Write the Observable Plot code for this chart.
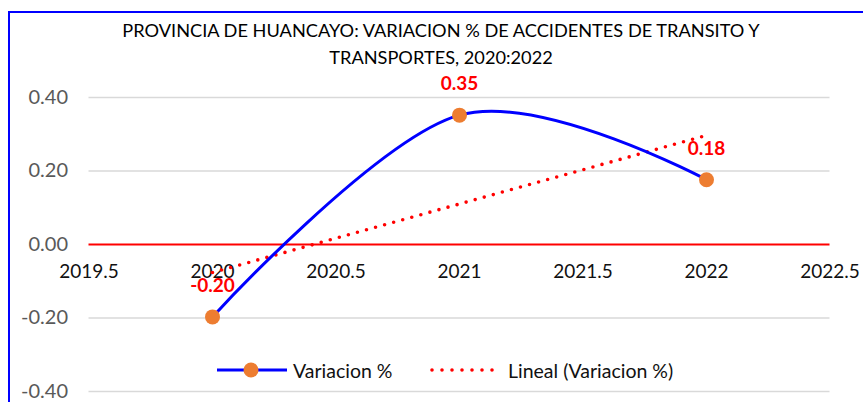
<!DOCTYPE html>
<html>
<head>
<meta charset="utf-8">
<script src="https://cdn.jsdelivr.net/npm/d3@7"></script>
<script src="https://cdn.jsdelivr.net/npm/@observablehq/plot@0.6"></script>
<style>
  html, body { margin: 0; padding: 0; background: #fff; overflow: hidden; }
  #wrap { position: relative; width: 863px; height: 402px; font-family: Lato, "Open Sans", sans-serif; }
  #frame { position: absolute; left: 8px; top: 11px; width: 900px; height: 500px;
           border-left: 2px solid #0000ff; border-top: 2px solid #0000ff; pointer-events: none; }
  .t { position: absolute; left: 0; width: 882px; text-align: center; color: #000; font-size: 18.2px; line-height: 1; white-space: nowrap; }
  #chart { position: absolute; left: 0; top: 0; }
  .lg { position: absolute; font-size: 19.5px; color: #111; line-height: 1; white-space: nowrap; }
</style>
</head>
<body>
<div id="wrap">
  <div id="chart"></div>
  <div class="t" id="t1" style="top:21px"></div>
  <div class="t" id="t2" style="top:48px"></div>
  <div id="legend"></div>
  <div id="frame"></div>
</div>
<script>
const titleLines = ["PROVINCIA DE HUANCAYO: VARIACION % DE ACCIDENTES DE TRANSITO Y", "TRANSPORTES, 2020:2022"];
const years = [2020, 2021, 2022];
const values = [-0.197, 0.352, 0.176];
const xTicks = [2019.5, 2020, 2020.5, 2021, 2021.5, 2022, 2022.5];
const yTicks = [-0.4, -0.2, 0, 0.2, 0.4];
const seriesName = "Variacion %";
const trendName = "Lineal (Variacion %)";

const data = years.map((year, i) => ({year, value: values[i]}));

document.getElementById("t1").textContent = titleLines[0];
document.getElementById("t2").textContent = titleLines[1];

const plot = Plot.plot({
  width: 863,
  height: 402,
  marginLeft: 88.5,
  marginRight: 33.5,
  marginTop: 97,
  marginBottom: 11,
  style: {fontFamily: "Lato, 'Open Sans', sans-serif", background: "transparent"},
  x: {domain: [2019.5, 2022.5], axis: null},
  y: {domain: [-0.4, 0.4], axis: null},
  marks: [
    Plot.ruleY(yTicks.filter(d => d !== 0), {stroke: "#d9d9d9", strokeWidth: 1.3}),
    Plot.ruleY([0], {stroke: "#ff0000", strokeWidth: 2.2}),
    Plot.axisY({ticks: yTicks, tickSize: 0, tickPadding: 21, label: null, tickFormat: d => d.toFixed(2), fontSize: 20, fill: "#595959"}),
    Plot.text(xTicks, {x: d => d, y: () => 0, text: d => String(d), dy: 27, fontSize: 19, fill: "#111"}),
    Plot.linearRegressionY(data, {x: "year", y: "value", ci: 0, stroke: "#ff0000", strokeWidth: 3.6, strokeDasharray: "0 9.4", strokeLinecap: "round"}),
    Plot.line(data, {x: "year", y: "value", curve: "cardinal", stroke: "#0000ff", strokeWidth: 3}),
    Plot.dot(data, {x: "year", y: "value", r: 7.5, fill: "#ED7D31", stroke: "none"}),
    Plot.text(data, {x: "year", y: "value", text: d => d.value.toFixed(2), dy: -31, fill: "#ff0000", fontWeight: "bold", fontSize: 19})
  ]
});
document.getElementById("chart").appendChild(plot);

// Legend (HTML overlay, inside the plot area like the original)
const legend = document.getElementById("legend");
legend.innerHTML = `
  <svg style="position:absolute;left:210px;top:355px" width="300" height="30">
    <line x1="7" x2="77" y1="15" y2="15" stroke="#0000ff" stroke-width="3"/>
    <circle cx="41" cy="15" r="7.5" fill="#ED7D31"/>
    <line x1="222" x2="283" y1="15" y2="15" stroke="#ff0000" stroke-width="3.6" stroke-dasharray="0 10" stroke-linecap="round"/>
  </svg>
  <div class="lg" style="left:293px;top:361px">${seriesName}</div>
  <div class="lg" style="left:508px;top:361px">${trendName}</div>
`;
</script>
</body>
</html>
